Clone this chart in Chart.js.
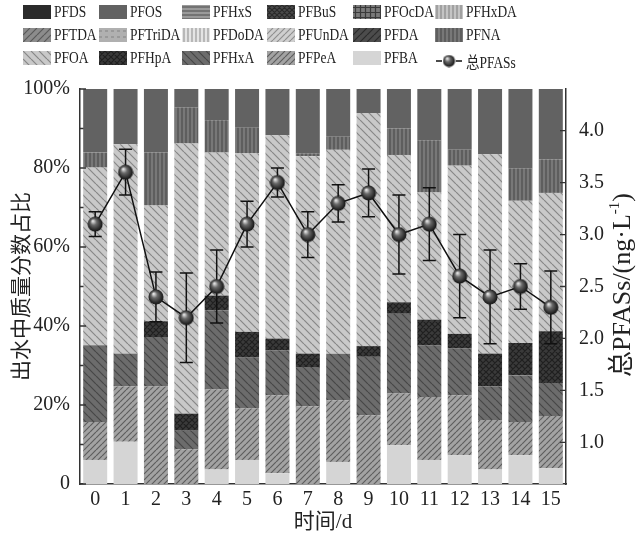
<!DOCTYPE html>
<html>
<head>
<meta charset="utf-8">
<script src="https://cdn.jsdelivr.net/npm/chart.js@4.4.1/dist/chart.umd.min.js"></script>
<style>
  html, body { margin: 0; padding: 0; background: #fff; }
  #wrap { position: relative; width: 639px; height: 540px; }
  #chart { position: absolute; left: 0; top: 0; }
  .leg { position: absolute; display: flex; align-items: center; font: 16px "Liberation Serif", "Noto Sans CJK SC", serif; color: #222; white-space: nowrap; }
  .leg canvas { margin-right: 3px; }
  .leg span { display: inline-block; transform: scaleX(0.84); transform-origin: left center; }
</style>
</head>
<body>
<div id="wrap">
  <canvas id="chart" width="639" height="540"></canvas>
  <div id="legend"></div>
</div>
<script>
// sampling day
const days = ['0', '1', '2', '3', '4', '5', '6', '7', '8', '9', '10', '11', '12', '13', '14', '15'];

// share of each compound in effluent, %
const pfba  = [6.1, 10.7, 0, 0, 3.7, 6.1, 2.7, 0, 5.6, 0, 9.8, 6.1, 7.3, 3.7, 7.3, 4.0];
const pfpea = [9.6, 14.0, 24.7, 8.8, 20.2, 13.0, 19.8, 19.7, 15.6, 17.4, 13.1, 15.9, 15.2, 12.5, 8.4, 13.2];
const pfhxa = [19.4, 8.3, 12.5, 4.7, 20.1, 12.9, 11.3, 9.9, 11.8, 14.8, 20.2, 13.1, 11.8, 8.5, 11.8, 8.4];
const pfhpa = [0, 0, 4.0, 4.3, 3.7, 6.5, 3.0, 3.4, 0, 2.7, 2.9, 6.5, 3.7, 8.3, 8.2, 13.1];
const pfoa  = [45.0, 53.0, 29.3, 68.4, 36.2, 45.2, 51.5, 50.0, 51.6, 59.0, 37.3, 32.2, 42.6, 50.5, 36.0, 35.0];
const pfna  = [3.8, 0, 13.4, 9.1, 8.2, 6.5, 0, 0.7, 3.3, 0, 6.7, 13.2, 4.0, 0, 8.2, 8.5];
const pfos  = [16.1, 14.0, 16.1, 4.7, 7.9, 9.8, 11.7, 16.3, 12.1, 6.1, 10.0, 13.0, 15.4, 16.5, 20.1, 17.8];
// compounds in the legend that stay too small to see
const notSeen = [0, 0, 0, 0, 0, 0, 0, 0, 0, 0, 0, 0, 0, 0, 0, 0];

// total PFASs, ng/L, with error bars
const totalPFAS = [3.1, 3.6, 2.4, 2.2, 2.5, 3.1, 3.5, 3.0, 3.3, 3.4, 3.0, 3.1, 2.6, 2.4, 2.5, 2.3];
const totalErr  = [0.12, 0.22, 0.24, 0.43, 0.35, 0.22, 0.14, 0.22, 0.18, 0.23, 0.38, 0.35, 0.40, 0.45, 0.22, 0.35];

const rightTicks = [1.0, 1.5, 2.0, 2.5, 3.0, 3.5, 4.0];

// legend order (row by row), stacking goes the other way
const compounds = [
    ['PFDS', notSeen], ['PFOS', pfos], ['PFHxS', notSeen], ['PFBuS', notSeen], ['PFOcDA', notSeen], ['PFHxDA', notSeen],
    ['PFTDA', notSeen], ['PFTriDA', notSeen], ['PFDoDA', notSeen], ['PFUnDA', notSeen], ['PFDA', notSeen], ['PFNA', pfna],
    ['PFOA', pfoa], ['PFHpA', pfhpa], ['PFHxA', pfhxa], ['PFPeA', pfpea], ['PFBA', pfba]
];

// fill style per compound: background, hatch kind, hatch colour, tile size
const looks = {
    PFDS:   ['#2b2b2b', 'solid'],
    PFOS:   ['#626262', 'solid'],
    PFHxS:  ['#9a9a9a', 'horiz', '#5a5a5a', 4],
    PFBuS:  ['#4a4a4a', 'cross', '#2a2a2a', 5],
    PFOcDA: ['#7a7a7a', 'grid', '#3a3a3a', 5],
    PFHxDA: ['#c4c4c4', 'vert', '#8a8a8a', 4],
    PFTDA:  ['#8c8c8c', 'fwd', '#5a5a5a', 7],
    PFTriDA:['#b0b0b0', 'dash', '#8a8a8a', 6],
    PFDoDA: ['#e4e4e4', 'vert', '#9a9a9a', 4],
    PFUnDA: ['#cfcfcf', 'fwd', '#8f8f8f', 6],
    PFDA:   ['#4c4c4c', 'fwd', '#2c2c2c', 7],
    PFNA:   ['#787878', 'vert', '#4e4e4e', 4],
    PFOA:   ['#c9c9c9', 'back', '#878787', 8],
    PFHpA:  ['#3a3a3a', 'cross', '#202020', 6],
    PFHxA:  ['#6c6c6c', 'back', '#474747', 8],
    PFPeA:  ['#a3a3a3', 'fwd', '#5e5e5e', 6],
    PFBA:   ['#d5d5d5', 'solid']
};

const makeFill = function(name) {
    const [bg, kind, ink, gap] = looks[name];
    if (kind === 'solid') return bg;
    const c = document.createElement('canvas');
    c.width = gap; c.height = gap;
    const g = c.getContext('2d');
    g.fillStyle = bg;
    g.fillRect(0, 0, gap, gap);
    g.strokeStyle = ink;
    g.lineWidth = 1.2;
    g.beginPath();
    for (let k = -1; k <= 1; k++) {
        if (kind === 'back' || kind === 'cross') { g.moveTo(k * gap, 0); g.lineTo(k * gap + gap, gap); }
        if (kind === 'fwd' || kind === 'cross') { g.moveTo(k * gap, gap); g.lineTo(k * gap + gap, 0); }
    }
    if (kind === 'vert' || kind === 'grid') { g.moveTo(gap / 2, 0); g.lineTo(gap / 2, gap); }
    if (kind === 'horiz' || kind === 'grid') { g.moveTo(0, gap / 2); g.lineTo(gap, gap / 2); }
    if (kind === 'dash') { g.moveTo(0, gap / 2); g.lineTo(gap / 2, gap / 2); }
    g.stroke();
    return g.createPattern(c, 'repeat');
};

// shaded ball used as the point marker
const makeBall = function(d) {
    const c = document.createElement('canvas');
    c.width = d; c.height = d;
    const g = c.getContext('2d');
    const r = d / 2;
    const grd = g.createRadialGradient(r * 0.7, r * 0.6, 0.5, r, r, r);
    grd.addColorStop(0, '#e6e6e6');
    grd.addColorStop(0.35, '#6a6a6a');
    grd.addColorStop(1, '#0a0a0a');
    g.fillStyle = grd;
    g.beginPath();
    g.arc(r, r, r - 0.5, 0, Math.PI * 2);
    g.fill();
    return c;
};
const ball = makeBall(16);

const barSets = compounds.slice().reverse().map(function([name, values]) {
    return {
        type: 'bar',
        label: name,
        data: values,
        backgroundColor: makeFill(name),
        borderWidth: 0,
        yAxisID: 'y',
        stack: 'share',
        categoryPercentage: 1,
        barPercentage: 0.79,
        order: 1
    };
});

const totalSet = {
    type: 'line',
    label: '总PFASs',
    data: totalPFAS,
    yAxisID: 'y1',
    borderColor: '#111',
    borderWidth: 1.5,
    pointStyle: ball,
    pointRadius: 8,
    tension: 0,
    order: -1
};

const serif = '"Liberation Serif", "Noto Sans CJK SC", serif';

// error bars go under the line and balls
const errorBars = {
    id: 'errorBars',
    beforeDatasetDraw(chart, args) {
        if (args.meta.type !== 'line') return;
        const ctx = chart.ctx;
        const y1 = chart.scales.y1;
        ctx.save();
        ctx.strokeStyle = '#111';
        ctx.lineWidth = 1.5;
        args.meta.data.forEach(function(pt, i) {
            const top = y1.getPixelForValue(totalPFAS[i] + totalErr[i]);
            const bot = y1.getPixelForValue(totalPFAS[i] - totalErr[i]);
            ctx.beginPath();
            ctx.moveTo(pt.x, top); ctx.lineTo(pt.x, bot);
            ctx.moveTo(pt.x - 6.5, top); ctx.lineTo(pt.x + 6.5, top);
            ctx.moveTo(pt.x - 6.5, bot); ctx.lineTo(pt.x + 6.5, bot);
            ctx.stroke();
        });
        ctx.restore();
    }
};

// ticks pointing into the plot, and the right title read bottom to top
const axisExtras = {
    id: 'axisExtras',
    afterDraw(chart) {
        const {ctx, chartArea: a, scales} = chart;
        ctx.save();
        ctx.strokeStyle = '#333';
        ctx.lineWidth = 1.3;
        ctx.beginPath();
        for (let v = 0; v <= 100; v += 10) {
            const y = scales.y.getPixelForValue(v);
            ctx.moveTo(a.left, y);
            ctx.lineTo(a.left + (v % 20 === 0 ? 6 : 3.5), y);
        }
        rightTicks.forEach(function(v) {
            const y = scales.y1.getPixelForValue(v);
            ctx.moveTo(a.right, y);
            ctx.lineTo(a.right - 6, y);
        });
        ctx.stroke();

        const big = '26px ' + serif;
        const small = '15px ' + serif;
        const partA = '总PFASs/(ng·L';
        const partB = '-1';
        const partC = ')';
        ctx.font = big;
        const wA = ctx.measureText(partA).width;
        const wC = ctx.measureText(partC).width;
        ctx.font = small;
        const wB = ctx.measureText(partB).width;
        const total = wA + wB + wC;
        ctx.translate(623, 285);
        ctx.rotate(-Math.PI / 2);
        ctx.fillStyle = '#222';
        ctx.textBaseline = 'middle';
        ctx.textAlign = 'left';
        let x = -total / 2;
        ctx.font = big;
        ctx.fillText(partA, x, 0);
        x += wA;
        ctx.font = small;
        ctx.fillText(partB, x, -8);
        x += wB;
        ctx.font = big;
        ctx.fillText(partC, x, 0);
        ctx.restore();
    }
};

const ctx = document.getElementById('chart').getContext('2d');
const shareChart = new Chart(ctx, {
    data: {
        labels: days,
        datasets: [totalSet].concat(barSets)
    },
    options: {
        responsive: false,
        animation: false,
        layout: { padding: { top: 89, left: 0, right: 0, bottom: 0 } },
        plugins: {
            legend: { display: false },
            tooltip: { enabled: false }
        },
        scales: {
            x: {
                stacked: true,
                offset: true,
                grid: { display: false, drawTicks: false },
                border: { display: true, color: '#333', width: 1.5 },
                ticks: { color: '#222', font: { family: serif, size: 20 }, padding: 4, maxRotation: 0, autoSkip: false },
                title: { display: true, text: '时间/d', color: '#222', font: { family: serif, size: 21 }, padding: { top: 0, bottom: 5 } },
                afterFit(scale) { scale.height = 56; }
            },
            y: {
                stacked: true,
                position: 'left',
                min: 0,
                max: 100,
                grid: { display: false, drawTicks: false },
                border: { display: true, color: '#333', width: 1.5 },
                ticks: {
                    stepSize: 20,
                    color: '#222',
                    padding: 10,
                    font: { family: serif, size: 20 },
                    callback: function(v) { return v === 0 ? '0' : v + '%'; }
                },
                title: { display: true, text: '出水中质量分数占比', color: '#222', font: { family: serif, size: 21 }, padding: { top: 10, bottom: 0 } },
                afterFit(scale) { scale.width = 80; }
            },
            y1: {
                position: 'right',
                min: 0.6,
                max: 4.4,
                grid: { display: false, drawTicks: false },
                border: { display: true, color: '#333', width: 1.5 },
                afterBuildTicks(scale) { scale.ticks = rightTicks.map(function(v) { return { value: v }; }); },
                ticks: {
                    color: '#222',
                    padding: 13,
                    font: { family: serif, size: 20 },
                    callback: function(v) { return Number(v).toFixed(1); }
                },
                afterFit(scale) { scale.width = 73; }
            }
        }
    },
    plugins: [errorBars, axisExtras]
});

// legend laid out as a 6 x 3 grid like the original
const legendColX = [23, 99, 182, 267, 353, 435];
const legendRowY = [3, 26, 49];
const legendBox = document.getElementById('legend');
const swatch = function(fill) {
    const c = document.createElement('canvas');
    c.width = 28; c.height = 14;
    const g = c.getContext('2d');
    g.fillStyle = fill;
    g.fillRect(0, 0, 28, 14);
    return c;
};
const legendItems = compounds.map(function([name]) { return name; }).concat(['总PFASs']);
legendItems.forEach(function(name, i) {
    const item = document.createElement('div');
    item.className = 'leg';
    item.style.left = legendColX[i % 6] + 'px';
    item.style.top = legendRowY[Math.floor(i / 6)] + 'px';
    let mark;
    if (name === '总PFASs') {
        mark = document.createElement('canvas');
        mark.width = 28; mark.height = 14;
        const g = mark.getContext('2d');
        g.strokeStyle = '#111';
        g.lineWidth = 1.5;
        g.beginPath();
        g.moveTo(1, 7); g.lineTo(7, 7);
        g.moveTo(21, 7); g.lineTo(27, 7);
        g.stroke();
        g.drawImage(makeBall(13), 7.5, 0.5);
    } else {
        mark = swatch(makeFill(name));
    }
    item.appendChild(mark);
    const label = document.createElement('span');
    label.textContent = name;
    item.appendChild(label);
    legendBox.appendChild(item);
});
</script>
</body>
</html>
